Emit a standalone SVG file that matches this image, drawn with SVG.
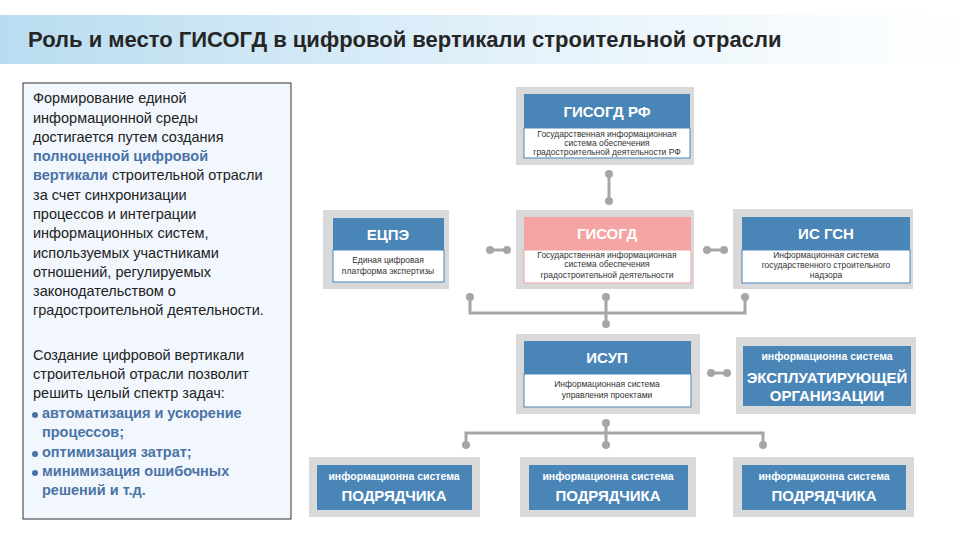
<svg xmlns="http://www.w3.org/2000/svg" width="960" height="540" viewBox="0 0 960 540">
<defs>
<linearGradient id="tg" x1="0" x2="1" y1="0" y2="0">
<stop offset="0" stop-color="#b9dcf0"/><stop offset="0.55" stop-color="#e4f2fa"/><stop offset="1" stop-color="#ffffff"/>
</linearGradient>
<style>
text{font-family:"Liberation Sans",Arial,sans-serif}
.frame{fill:#d9d9d9}
.hdr{fill:#4a85b8}
.wb{fill:#fff;stroke:#4a85b8;stroke-width:1}
.ht{fill:#fff;font-weight:bold;font-size:15px;text-anchor:middle}
.st{fill:#333;font-size:8.5px;text-anchor:middle}
.sm{fill:#fff;font-weight:bold;font-size:10.5px;text-anchor:middle}
.bg{fill:#fff;font-weight:bold;font-size:15px;text-anchor:middle}
.ln{stroke:#a6a6a6;stroke-width:3;fill:none}
.dt{fill:#a6a6a6}
.p{font-size:14.5px;fill:#222}
.b{font-weight:bold;fill:#4a73a6}
</style>
</defs>
<rect width="960" height="540" fill="#fff"/>
<rect x="0" y="15" width="960" height="49" fill="url(#tg)"/>
<text x="28" y="47" font-size="22" font-weight="bold" fill="#262626">Роль и место ГИСОГД в цифровой вертикали строительной отрасли</text>

<g id="leftpanel">
<rect x="23" y="83" width="268" height="436" fill="#f1f7fd" stroke="#333" stroke-width="1"/>
<text class="p" x="33" y="103">Формирование единой</text>
<text class="p" x="33" y="123">информационной среды</text>
<text class="p" x="33" y="142">достигается путем создания</text>
<text class="p b" x="33" y="161">полноценной цифровой</text>
<text class="p" x="33" y="180"><tspan class="b">вертикали</tspan> строительной отрасли</text>
<text class="p" x="33" y="200">за счет синхронизации</text>
<text class="p" x="33" y="219">процессов и интеграции</text>
<text class="p" x="33" y="238">информационных систем,</text>
<text class="p" x="33" y="258">используемых участниками</text>
<text class="p" x="33" y="277">отношений, регулируемых</text>
<text class="p" x="33" y="296">законодательством о</text>
<text class="p" x="33" y="315">градостроительной деятельности.</text>
<text class="p" x="33" y="360">Создание цифровой вертикали</text>
<text class="p" x="33" y="379">строительной отрасли позволит</text>
<text class="p" x="33" y="398">решить целый спектр задач:</text>
<circle cx="35" cy="415" r="3" fill="#4a73a6"/>
<text class="p b" x="42" y="418">автоматизация и ускорение</text>
<text class="p b" x="42" y="437">процессов;</text>
<circle cx="35" cy="454" r="3" fill="#4a73a6"/>
<text class="p b" x="42" y="457">оптимизация затрат;</text>
<circle cx="35" cy="473" r="3" fill="#4a73a6"/>
<text class="p b" x="42" y="476">минимизация ошибочных</text>
<text class="p b" x="42" y="495">решений и т.д.</text>
</g>

<g id="connectors">
<line class="ln" x1="609" y1="174" x2="609" y2="201"/><circle class="dt" cx="609" cy="174" r="4"/><circle class="dt" cx="609" cy="201" r="4"/>
<line class="ln" x1="490" y1="250" x2="507" y2="250"/><circle class="dt" cx="490" cy="250" r="4"/><circle class="dt" cx="507" cy="250" r="4"/>
<line class="ln" x1="707" y1="250" x2="724" y2="250"/><circle class="dt" cx="707" cy="250" r="4"/><circle class="dt" cx="724" cy="250" r="4"/>
<path class="ln" d="M470 297V313H745V297M606 297V325"/>
<circle class="dt" cx="470" cy="297" r="4"/><circle class="dt" cx="606" cy="297" r="4"/><circle class="dt" cx="745" cy="297" r="4"/><circle class="dt" cx="606" cy="324" r="4"/>
<line class="ln" x1="711" y1="373" x2="727" y2="373"/><circle class="dt" cx="711" cy="373" r="4"/><circle class="dt" cx="727" cy="373" r="4"/>
<path class="ln" d="M606 423V445M466 445V433H763V445"/>
<circle class="dt" cx="606" cy="423" r="4"/><circle class="dt" cx="466" cy="445" r="4"/><circle class="dt" cx="606" cy="445" r="4"/><circle class="dt" cx="763" cy="445" r="4"/>
</g>

<g id="gisogd-rf">
<rect class="frame" x="516" y="87" width="178" height="78"/>
<rect class="hdr" x="524" y="94" width="166" height="34"/>
<rect class="wb" x="524" y="128" width="166" height="30"/>
<text class="ht" x="607" y="117">ГИСОГД РФ</text>
<text class="st" x="607" y="137">Государственная информационная</text>
<text class="st" x="607" y="146">система обеспечения</text>
<text class="st" x="607" y="155">градостроительной деятельности РФ</text>
</g>

<g id="ecpe">
<rect class="frame" x="323" y="210" width="126" height="79"/>
<rect class="hdr" x="333" y="218" width="111" height="32"/>
<rect class="wb" x="333" y="250" width="111" height="32" stroke="#fff"/>
<text class="ht" x="388" y="240">ЕЦПЭ</text>
<text class="st" x="388" y="263">Единая цифровая</text>
<text class="st" x="388" y="274">платформа экспертизы</text>
</g>

<g id="gisogd">
<rect class="frame" x="516" y="210" width="178" height="79"/>
<rect x="524" y="217" width="167" height="33" fill="#f5a3a3"/>
<rect x="524" y="250" width="167" height="33" fill="#fff" stroke="#f5a3a3"/>
<text class="ht" x="607" y="239">ГИСОГД</text>
<text class="st" x="607" y="258">Государственная информационная</text>
<text class="st" x="607" y="267">система обеспечения</text>
<text class="st" x="607" y="278">градостроительной деятельности</text>
</g>

<g id="is-gsn">
<rect class="frame" x="733" y="209" width="180" height="80"/>
<rect class="hdr" x="742" y="217" width="168" height="33"/>
<rect class="wb" x="742" y="250" width="168" height="33"/>
<text class="ht" x="826" y="239">ИС ГСН</text>
<text class="st" x="826" y="258">Информационная система</text>
<text class="st" x="826" y="268">государственного строительного</text>
<text class="st" x="826" y="278">надзора</text>
</g>

<g id="isup">
<rect class="frame" x="516" y="334" width="184" height="80"/>
<rect class="hdr" x="524" y="341" width="167" height="33"/>
<rect class="wb" x="524" y="374" width="167" height="33"/>
<text class="ht" x="607" y="363">ИСУП</text>
<text class="st" x="607" y="387">Информационная система</text>
<text class="st" x="607" y="398">управления проектами</text>
</g>

<g id="ekspl">
<rect class="frame" x="736" y="337" width="180" height="77"/>
<rect class="hdr" x="743" y="346" width="168" height="60"/>
<text class="sm" x="827" y="360">информационна система</text>
<text class="bg" x="827" y="383" font-size="14">ЭКСПЛУАТИРУЮЩЕЙ</text>
<text class="bg" x="827" y="401" font-size="14">ОРГАНИЗАЦИИ</text>
</g>

<g id="podr1">
<rect class="frame" x="309" y="457" width="171" height="60"/>
<rect class="hdr" x="317" y="465" width="155" height="45"/>
<text class="sm" x="394" y="480">информационна система</text>
<text class="bg" x="394" y="501">ПОДРЯДЧИКА</text>
</g>
<g id="podr2">
<rect class="frame" x="520" y="457" width="176" height="60"/>
<rect class="hdr" x="529" y="465" width="159" height="45"/>
<text class="sm" x="608" y="480">информационна система</text>
<text class="bg" x="608" y="501">ПОДРЯДЧИКА</text>
</g>
<g id="podr3">
<rect class="frame" x="733" y="457" width="181" height="60"/>
<rect class="hdr" x="742" y="465" width="164" height="45"/>
<text class="sm" x="824" y="480">информационна система</text>
<text class="bg" x="824" y="501">ПОДРЯДЧИКА</text>
</g>
</svg>
